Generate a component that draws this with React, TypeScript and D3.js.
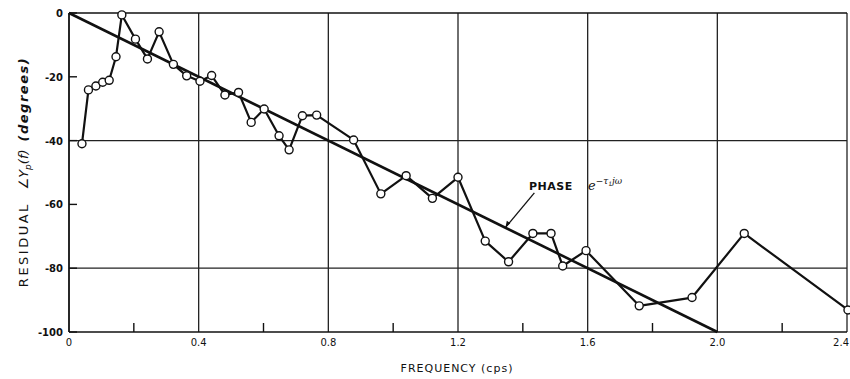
import React from "react";
import * as d3 from "d3";

const freq = [0.04, 0.06, 0.083, 0.104, 0.124, 0.145, 0.163, 0.205, 0.242, 0.278, 0.322, 0.363, 0.404, 0.44, 0.481, 0.523, 0.562, 0.602, 0.648, 0.679, 0.72, 0.764, 0.878, 0.962, 1.04, 1.121, 1.2, 1.284, 1.356, 1.431, 1.487, 1.523, 1.595, 1.759, 1.922, 2.083, 2.403];
const phase = [-41, -24.1, -22.9, -21.7, -21.1, -13.7, -0.6, -8.2, -14.4, -5.9, -16.1, -19.7, -21.4, -19.6, -25.7, -24.9, -34.3, -30.1, -38.5, -42.9, -32.2, -32.0, -39.8, -56.7, -51.0, -58.1, -51.5, -71.5, -78.0, -69.1, -69.1, -79.3, -74.5, -91.8, -89.2, -69.1, -93.1];
const delayLineX = [0, 2.0];
const delayLineY = [0, -100];
const xMajorTicks = [0, 0.4, 0.8, 1.2, 1.6, 2.0, 2.4];
const xTickLabels = ["0", "0.4", "0.8", "1.2", "1.6", "2.0", "2.4"];
const xMinorTicks = [0.2, 0.6, 1.0, 1.4, 1.8, 2.2];
const yTicks = [0, -20, -40, -60, -80, -100];
const yTickLabels = ["0", "-20", "-40", "-60", "-80", "-100"];
const yGrid = [-40, -80];

const W = 850;
const H = 379;
const x = d3.scaleLinear().domain([0, 2.4]).range([69, 847]);
const y = d3.scaleLinear().domain([0, -100]).range([13, 332]);

export default function App() {
  const pts = freq.map((f, i) => [f, phase[i]] as [number, number]);
  const line = d3.line<[number, number]>().x((d) => x(d[0])).y((d) => y(d[1]));
  const delayPts = delayLineX.map((v, i) => [v, delayLineY[i]] as [number, number]);
  const font = "'DejaVu Sans', sans-serif";
  const arrowFrom = [x(1.38) + 18, y(-57) - 2];
  const arrowTo = [x(1.346), y(-67.3)];
  return (
    <svg width={W} height={H} style={{ position: "absolute", left: 0, top: 0, background: "#fff" }} fontFamily={font}>
      <rect x={0} y={0} width={W} height={H} fill="#fff" />
      {xMajorTicks.slice(1).map((t) => (
        <line key={"vx" + t} x1={x(t)} x2={x(t)} y1={y(0)} y2={y(-100)} stroke="#222" strokeWidth={1.3} />
      ))}
      {yGrid.map((t) => (
        <line key={"gy" + t} x1={x(0)} x2={x(2.4)} y1={y(t)} y2={y(t)} stroke="#222" strokeWidth={1.2} />
      ))}
      <line x1={x(0)} x2={x(2.4)} y1={y(0)} y2={y(0)} stroke="#111" strokeWidth={1.4} />
      <line x1={x(0)} x2={x(2.4)} y1={y(-100)} y2={y(-100)} stroke="#111" strokeWidth={1.6} />
      <line x1={x(0)} x2={x(0)} y1={y(0)} y2={y(-100)} stroke="#111" strokeWidth={1.8} />
      {xMinorTicks.map((t) => (
        <line key={"mx" + t} x1={x(t)} x2={x(t)} y1={y(-100)} y2={y(-100) - 9} stroke="#111" strokeWidth={1.4} />
      ))}
      {yTicks.map((t) => (
        <line key={"ty" + t} x1={x(0)} x2={x(0) + 8} y1={y(t)} y2={y(t)} stroke="#111" strokeWidth={1.4} />
      ))}
      {yTicks.map((t, i) => (
        <text key={"yl" + t} x={63} y={y(t) + 4} textAnchor="end" fontSize={10} fontWeight="bold" fill="#111">
          {yTickLabels[i]}
        </text>
      ))}
      {xMajorTicks.map((t, i) => (
        <text
          key={"xl" + t}
          x={i === xMajorTicks.length - 1 ? 849 : x(t)}
          y={346}
          textAnchor={i === xMajorTicks.length - 1 ? "end" : "middle"}
          fontSize={10}
          fill="#111"
        >
          {xTickLabels[i]}
        </text>
      ))}
      <path d={line(delayPts) || ""} fill="none" stroke="#111" strokeWidth={2.6} />
      <path d={line(pts) || ""} fill="none" stroke="#111" strokeWidth={2.2} strokeLinejoin="round" />
      {pts.map((p, i) => (
        <circle key={"c" + i} cx={x(p[0])} cy={y(p[1])} r={4} fill="#fff" stroke="#111" strokeWidth={1.4} />
      ))}
      <line x1={arrowFrom[0]} y1={arrowFrom[1]} x2={arrowTo[0]} y2={arrowTo[1]} stroke="#111" strokeWidth={1.3} />
      <path d={`M${arrowTo[0]},${arrowTo[1]} l1.5,-7 l3.5,2.6 Z`} fill="#111" />
      <text x={529} y={190} fontSize={11} fontWeight="600" fill="#111" letterSpacing={0.5}>
        PHASE
      </text>
      <text x={588} y={190} fontSize={13} fontStyle="italic" fill="#111" fontFamily="'DejaVu Serif', serif">
        e
        <tspan dy={-6} fontSize={9}>−τ</tspan>
        <tspan dy={2} fontSize={6}>1</tspan>
        <tspan dy={-2} fontSize={9}>jω</tspan>
      </text>
      <text x={457} y={372} textAnchor="middle" fontSize={11} fill="#111" letterSpacing={1}>
        FREQUENCY (cps)
      </text>
      <text transform="translate(28,172) rotate(-90)" textAnchor="middle" fontSize={13} fill="#111">
        <tspan letterSpacing={2.5}>RESIDUAL </tspan>
        <tspan fontStyle="italic" dx={6}>∠Y</tspan>
        <tspan fontStyle="italic" fontSize={9} dy={3}>p</tspan>
        <tspan fontStyle="italic" dy={-3}>(f)</tspan>
        <tspan fontStyle="italic" fontWeight="bold" dx={8} letterSpacing={1.5}>(degrees)</tspan>
      </text>
    </svg>
  );
}
